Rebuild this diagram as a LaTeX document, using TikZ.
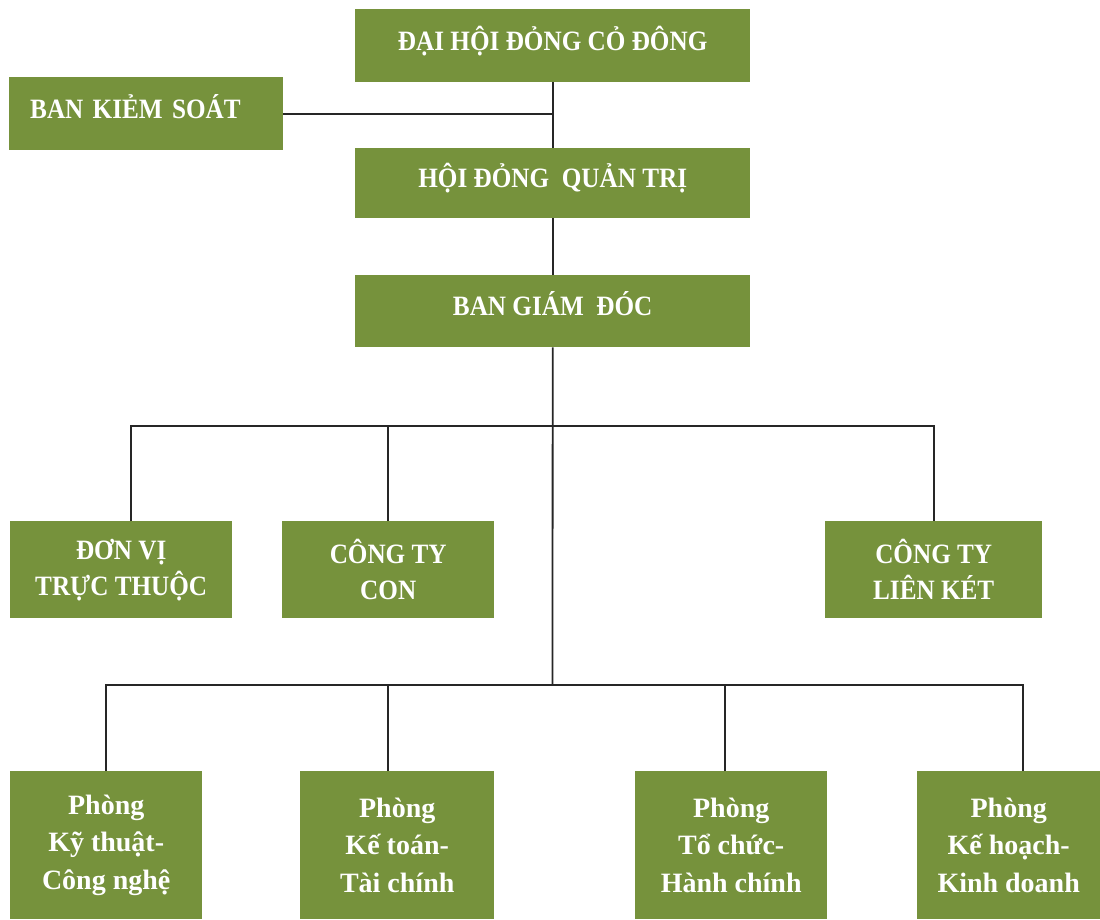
\documentclass[tikz,border=0pt]{standalone}
\usepackage{fontspec}
\setmainfont{Liberation Serif}
\newfontfamily\capsfont[FakeStretch=0.9]{Liberation Serif}
\definecolor{olivebox}{HTML}{76923C}
\begin{document}
\begin{tikzpicture}[x=1pt,y=-1pt,
  box/.style={fill=olivebox, draw=none, inner sep=0pt, text=white, anchor=north west,
    align=center, font=\capsfont\bfseries\fontsize{28}{36}\selectfont},
  single/.style={box, text height=18pt, text depth=9pt},
  dept/.style={box, font=\bfseries\fontsize{28}{37.5}\selectfont},
  conn/.style={draw=black!85, line width=1.8pt}]
\useasboundingbox (0,0) rectangle (1100,919);
\fill[white] (0,0) rectangle (1100,919);
% top chain
\node[single, minimum width=395pt, minimum height=73pt] (dhcd) at (355,9) {ĐẠI HỘI ĐỎNG CỎ ĐÔNG};
\node[single, minimum width=274pt, minimum height=73pt, text width=232pt, align=left] (bks) at (9,77) {BAN KIẺM SOÁT};
\node[single, minimum width=395pt, minimum height=70pt] (hdqt) at (355,148) {HỘI ĐỎNG~ QUẢN TRỊ};
\node[single, minimum width=395pt, minimum height=72pt] (bgd) at (355,275) {BAN GIÁM~ ĐÓC};
% second row
\node[box, minimum width=222pt, minimum height=97pt] (dvtt) at (10,521) {ĐƠN VỊ\\TRỰC THUỘC};
\node[box, minimum width=212pt, minimum height=97pt] (ctcon) at (282,521) {CÔNG TY\\CON};
\node[box, minimum width=217pt, minimum height=97pt] (ctlk) at (825,521) {CÔNG TY\\LIÊN KÉT};
% departments
\node[dept, minimum width=192pt, minimum height=148pt] (p1) at (10,771) {Phòng\\Kỹ thuật-\\Công nghệ};
\node[dept, minimum width=194pt, minimum height=148pt] (p2) at (300,771) {Phòng\\Kế toán-\\Tài chính};
\node[dept, minimum width=192pt, minimum height=148pt] (p3) at (635,771) {Phòng\\Tổ chức-\\Hành chính};
\node[dept, minimum width=183pt, minimum height=148pt] (p4) at (917,771) {Phòng\\Kế hoạch-\\Kinh doanh};
% bus points
\coordinate (bus1) at (552.5,426);
\coordinate (bus2) at (552.5,685);
% connectors
\draw[conn] (dhcd.south) -- (hdqt.north);
\draw[conn] (bks.east) -- (bks.east -| dhcd.south);
\draw[conn] (hdqt.south) -- (bgd.north);
\draw[conn] (bgd.south) -- (bus2);
\draw[conn] ([xshift=10pt]dvtt.north) |- (bus1) -| (ctlk.north);
\draw[conn] (ctcon.north) -- (ctcon.north |- bus1);
\draw[conn] (p1.north) |- (bus2) -| ([xshift=14.5pt]p4.north);
\draw[conn] ([xshift=-9pt]p2.north) -- ([xshift=-9pt]p2.north |- bus2);
\draw[conn] ([xshift=-6pt]p3.north) -- ([xshift=-6pt]p3.north |- bus2);
\end{tikzpicture}
\end{document}
